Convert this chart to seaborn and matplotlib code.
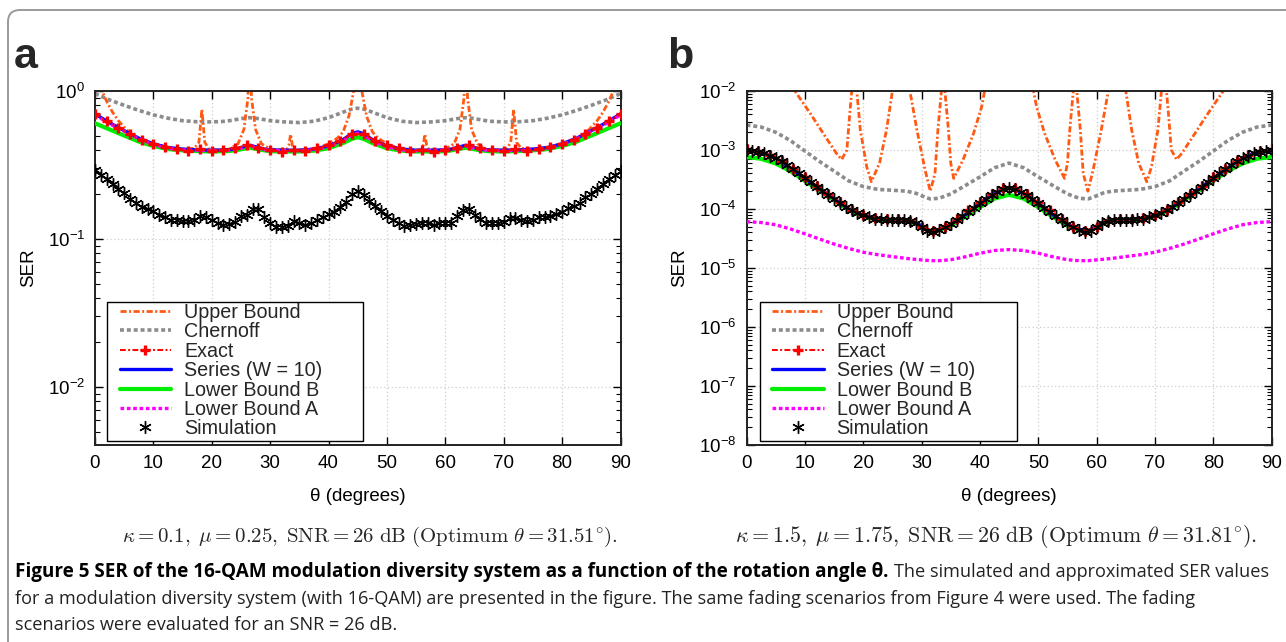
import numpy as np
import matplotlib
matplotlib.use("Agg")
import matplotlib.pyplot as plt
import seaborn as sns
from matplotlib.patches import FancyBboxPatch, Rectangle
from matplotlib.transforms import IdentityTransform
from matplotlib.ticker import LogLocator, NullFormatter, MultipleLocator, LogFormatterMathtext

# ---------------- DATA: panel a ----------------
TH_A_SMOOTH = [0, 2.5, 5, 7.5, 10, 12.5, 15, 17.5, 20, 22.5, 24, 25.5, 26.5, 27.5, 29, 30, 32.5, 35, 37.5, 40,
               42.5, 44, 45, 46, 47.5, 50, 52.5, 55, 57.5, 60, 61, 62.5, 63.5, 64.5, 66, 67.5, 70, 72.5, 75,
               77.5, 80, 82.5, 85, 87.5, 90]
SERIES_A = [0.70, 0.61, 0.54, 0.48, 0.44, 0.415, 0.405, 0.40, 0.398, 0.40, 0.405, 0.42, 0.43, 0.42, 0.405, 0.40,
            0.398, 0.398, 0.405, 0.425, 0.47, 0.515, 0.53,
            0.515, 0.47, 0.425, 0.405, 0.398, 0.398, 0.40, 0.405, 0.42, 0.43, 0.42, 0.405, 0.40, 0.398, 0.40,
            0.405, 0.415, 0.44, 0.48, 0.54, 0.61, 0.70]
LBA_A = [0.69, 0.60, 0.535, 0.475, 0.435, 0.41, 0.40, 0.397, 0.395, 0.397, 0.402, 0.415, 0.425, 0.415, 0.402,
         0.397, 0.395, 0.395, 0.40, 0.42, 0.46, 0.505, 0.52,
         0.505, 0.46, 0.42, 0.40, 0.395, 0.395, 0.397, 0.402, 0.415, 0.425, 0.415, 0.402, 0.397, 0.395, 0.397,
         0.40, 0.41, 0.435, 0.475, 0.535, 0.60, 0.69]
LBB_A = [0.605, 0.55, 0.50, 0.455, 0.425, 0.405, 0.397, 0.393, 0.39, 0.392, 0.397, 0.407, 0.414, 0.407, 0.397,
         0.392, 0.39, 0.39, 0.395, 0.41, 0.445, 0.475, 0.487,
         0.475, 0.445, 0.41, 0.395, 0.39, 0.39, 0.392, 0.397, 0.407, 0.414, 0.407, 0.397, 0.392, 0.39, 0.393,
         0.397, 0.405, 0.425, 0.455, 0.50, 0.55, 0.605]
CHERNOFF_A = [0.96, 0.87, 0.80, 0.74, 0.69, 0.655, 0.63, 0.62, 0.618, 0.625, 0.64, 0.655, 0.66, 0.655, 0.64,
              0.63, 0.618, 0.612, 0.625, 0.66, 0.72, 0.755, 0.765,
              0.755, 0.72, 0.66, 0.625, 0.612, 0.618, 0.63, 0.64, 0.655, 0.66, 0.655, 0.64, 0.625, 0.618, 0.62,
              0.63, 0.655, 0.69, 0.74, 0.80, 0.87, 0.96]
TH_A_EXACT = list(range(0, 91, 2))
EXACT_A = [0.70, 0.625, 0.565, 0.51, 0.465, 0.44, 0.42, 0.405, 0.395, 0.405, 0.395, 0.40, 0.41, 0.43, 0.415,
           0.40, 0.39, 0.40, 0.395, 0.41, 0.43, 0.46, 0.51, 0.51, 0.46, 0.43, 0.41, 0.395, 0.40, 0.39, 0.40,
           0.415, 0.43, 0.41, 0.40, 0.395, 0.405, 0.395, 0.405, 0.42, 0.44, 0.465, 0.51, 0.565, 0.625, 0.70]
TH_A_UB = [0, 1, 2, 3, 4, 5, 6, 7, 8, 10, 12.5, 15, 17, 17.8, 18.3, 18.8, 19.5, 21, 23, 24.5, 25.5, 26.2, 26.5,
           26.8, 27.5, 28.5, 30, 32.8, 33.2, 33.5, 33.8, 34.2, 36, 38, 40, 41.5, 42.5, 43.5, 44.3, 45,
           45.7, 46.5, 47.5, 48.5, 50, 52, 54, 55.8, 56.2, 56.5, 56.8, 57.2, 60, 61.5, 62.5, 63.2, 63.5, 63.8,
           64.5, 65.5, 67, 69, 70.5, 71.2, 71.7, 72.2, 73, 75, 77.5, 80, 82, 83, 84, 85, 86, 87, 88, 89, 90]
UB_A = [3.0, 1.05, 0.85, 0.72, 0.63, 0.57, 0.52, 0.485, 0.46, 0.44, 0.415, 0.405, 0.41, 0.45, 0.75, 0.45, 0.405,
        0.40, 0.405, 0.44, 0.55, 0.9, 3.0, 0.9, 0.55, 0.44, 0.405, 0.40, 0.43, 0.51, 0.43, 0.40, 0.40, 0.41, 0.44,
        0.48, 0.53, 0.68, 1.0, 3.0,
        1.0, 0.68, 0.53, 0.48, 0.44, 0.41, 0.40, 0.40, 0.43, 0.51, 0.43, 0.40, 0.405, 0.44, 0.55, 0.9, 3.0, 0.9,
        0.55, 0.44, 0.405, 0.40, 0.405, 0.45, 0.75, 0.45, 0.41, 0.405, 0.415, 0.44, 0.46, 0.485, 0.52, 0.57,
        0.63, 0.72, 0.85, 1.05, 3.0]
TH_SIM = list(range(0, 91))
SIM_A = [0.292, 0.271, 0.253, 0.235, 0.218, 0.204, 0.187, 0.176, 0.165, 0.159, 0.155, 0.145, 0.140, 0.134,
         0.134, 0.132, 0.132, 0.134, 0.143, 0.140, 0.134, 0.129, 0.124, 0.126, 0.131, 0.142, 0.145, 0.159,
         0.159, 0.140, 0.129, 0.121, 0.121, 0.123, 0.132, 0.128, 0.124, 0.128, 0.134, 0.140, 0.147, 0.153,
         0.165, 0.179, 0.200, 0.212, 0.198, 0.181, 0.167, 0.155, 0.143, 0.134, 0.128, 0.123, 0.124, 0.126,
         0.129, 0.128, 0.124, 0.128, 0.129, 0.129, 0.142, 0.157, 0.159, 0.145, 0.136, 0.128, 0.128, 0.129,
         0.131, 0.139, 0.138, 0.134, 0.132, 0.134, 0.140, 0.140, 0.142, 0.148, 0.153, 0.161, 0.167, 0.176,
         0.191, 0.200, 0.217, 0.235, 0.253, 0.271, 0.290]

# ---------------- DATA: panel b ----------------
TH_B_SMOOTH = [0, 2.5, 5, 7.5, 10, 12.5, 15, 17.5, 20, 22.5, 25, 27.5, 29, 30.5, 31.5, 33, 35, 37.5, 40, 42.5,
               45, 47.5, 50, 52.5, 55, 57, 58.5, 59.5, 61, 62.5, 65, 67.5, 70, 72.5, 75, 77.5, 80, 82.5, 85,
               87.5, 90]
SERIES_B = [1.0e-3, 9.3e-4, 7.3e-4, 5.0e-4, 3.3e-4, 2.2e-4, 1.5e-4, 1.0e-4, 7.8e-5, 6.8e-5, 6.6e-5, 6.4e-5,
            5.9e-5, 4.8e-5, 4.2e-5, 4.5e-5, 5.5e-5, 8.0e-5, 1.25e-4, 1.85e-4, 2.3e-4,
            1.85e-4, 1.25e-4, 8.0e-5, 5.5e-5, 4.5e-5, 4.2e-5, 4.8e-5, 5.9e-5, 6.4e-5, 6.6e-5, 6.8e-5, 7.8e-5,
            1.0e-4, 1.5e-4, 2.2e-4, 3.3e-4, 5.0e-4, 7.3e-4, 9.3e-4, 1.0e-3]
LBB_B = [7.6e-4, 7.1e-4, 5.9e-4, 4.4e-4, 3.0e-4, 2.05e-4, 1.42e-4, 9.6e-5, 7.5e-5, 6.6e-5, 6.4e-5, 6.2e-5,
         5.7e-5, 4.7e-5, 4.1e-5, 4.4e-5, 5.2e-5, 7.4e-5, 1.07e-4, 1.5e-4, 1.74e-4,
         1.5e-4, 1.07e-4, 7.4e-5, 5.2e-5, 4.4e-5, 4.1e-5, 4.7e-5, 5.7e-5, 6.2e-5, 6.4e-5, 6.6e-5, 7.5e-5,
         9.6e-5, 1.42e-4, 2.05e-4, 3.0e-4, 4.4e-4, 5.9e-4, 7.1e-4, 7.6e-4]
LBA_B = [6.1e-5, 5.9e-5, 5.4e-5, 4.6e-5, 3.8e-5, 3.1e-5, 2.55e-5, 2.15e-5, 1.85e-5, 1.68e-5, 1.56e-5, 1.45e-5,
         1.4e-5, 1.36e-5, 1.33e-5, 1.33e-5, 1.38e-5, 1.55e-5, 1.78e-5, 1.98e-5, 2.05e-5,
         1.98e-5, 1.78e-5, 1.55e-5, 1.38e-5, 1.33e-5, 1.33e-5, 1.36e-5, 1.4e-5, 1.45e-5, 1.56e-5, 1.68e-5,
         1.85e-5, 2.15e-5, 2.55e-5, 3.1e-5, 3.8e-5, 4.6e-5, 5.4e-5, 5.9e-5, 6.1e-5]
CHERNOFF_B = [2.65e-3, 2.45e-3, 2.0e-3, 1.45e-3, 9.6e-4, 6.4e-4, 4.4e-4, 3.0e-4, 2.4e-4, 2.15e-4, 2.08e-4,
              2.0e-4, 1.85e-4, 1.6e-4, 1.48e-4, 1.52e-4, 1.8e-4, 2.5e-4, 3.5e-4, 5.0e-4, 6.0e-4,
              5.0e-4, 3.5e-4, 2.5e-4, 1.8e-4, 1.52e-4, 1.48e-4, 1.6e-4, 1.85e-4, 2.0e-4, 2.08e-4, 2.15e-4,
              2.4e-4, 3.0e-4, 4.4e-4, 6.4e-4, 9.6e-4, 1.45e-3, 2.0e-3, 2.45e-3, 2.65e-3]
TH_B_EXACT = list(range(0, 91, 2))
EXACT_B = [1.02e-3, 9.7e-4, 8.3e-4, 6.6e-4, 4.8e-4, 3.5e-4, 2.5e-4, 1.8e-4, 1.32e-4, 9.8e-5, 8.0e-5, 7.0e-5,
           6.8e-5, 6.8e-5, 6.3e-5, 5.0e-5, 4.3e-5, 5.0e-5, 6.8e-5, 9.5e-5, 1.3e-4, 1.78e-4, 2.3e-4,
           2.3e-4, 1.78e-4, 1.3e-4, 9.5e-5, 6.8e-5, 5.0e-5, 4.3e-5, 5.0e-5, 6.3e-5, 6.8e-5, 6.8e-5, 7.0e-5,
           8.0e-5, 9.8e-5, 1.32e-4, 1.8e-4, 2.5e-4, 3.5e-4, 4.8e-4, 6.6e-4, 8.3e-4, 9.7e-4, 1.02e-3]
TH_B_UB = [0, 7, 8.3, 10.9, 13.7, 15.4, 16.3, 17.2, 17.7, 18.1, 18.5, 18.9, 19.5, 20.6, 21.4, 22.8, 24.0, 25.0,
           26.5, 28.0, 29.2, 30.6, 31.5, 32.3, 32.8, 33.4, 33.7, 34.0, 34.6, 35.0, 35.5, 37.1, 38.9, 40.3, 40.8,
           45, 49.2, 49.7, 51.1, 52.9, 54.5, 55.0, 55.4, 56.0, 56.3, 56.6, 57.2, 57.7, 58.5, 59.4, 60.8, 62.0,
           63.5, 65.0, 66.0, 67.2, 68.6, 69.4, 70.5, 71.1, 71.5, 71.9, 72.3, 72.8, 73.7, 74.6, 76.3, 79.1, 81.7,
           83.0, 90]
UB_B = [1.0, 0.02, 1.0e-2, 4.2e-3, 1.58e-3, 8.8e-4, 6.9e-4, 1.0e-3, 4.2e-3, 1.2e-2, 0.1, 1.0e-2, 2.2e-3,
        5.2e-4, 2.9e-4, 6.0e-4, 2.2e-3, 1.0e-2, 0.1, 1.0e-2, 2.2e-3, 4.6e-4, 2.0e-4, 4.0e-4, 2.2e-3, 1.0e-2,
        0.05, 1.0e-2, 2.2e-3, 6.0e-4, 3.3e-4, 6.8e-4, 1.9e-3, 5.4e-3, 1.0e-2, 0.1,
        1.0e-2, 5.4e-3, 1.9e-3, 6.8e-4, 3.3e-4, 6.0e-4, 2.2e-3, 1.0e-2, 0.05, 1.0e-2, 2.2e-3, 4.0e-4, 2.0e-4,
        4.6e-4, 2.2e-3, 1.0e-2, 0.1, 1.0e-2, 2.2e-3, 6.0e-4, 2.9e-4, 5.2e-4, 2.2e-3, 1.0e-2, 0.1, 1.2e-2,
        4.2e-3, 1.0e-3, 6.9e-4, 8.8e-4, 1.58e-3, 4.2e-3, 1.0e-2, 0.02, 1.0]
SIM_B = [1.0e-3, 9.8e-4, 9.4e-4, 8.8e-4, 8.0e-4, 7.3e-4, 6.5e-4, 5.6e-4, 4.8e-4, 4.0e-4, 3.3e-4, 2.85e-4,
         2.4e-4, 2.05e-4, 1.75e-4, 1.5e-4, 1.28e-4, 1.1e-4, 9.5e-5, 8.5e-5, 7.8e-5, 7.2e-5, 6.9e-5, 6.7e-5,
         6.6e-5, 6.6e-5, 6.5e-5, 6.4e-5, 6.2e-5, 5.8e-5, 5.0e-5, 4.3e-5, 4.0e-5, 4.4e-5, 4.9e-5, 5.6e-5,
         6.5e-5, 7.6e-5, 9.0e-5, 1.06e-4, 1.25e-4, 1.47e-4, 1.7e-4, 1.95e-4, 2.2e-4, 2.3e-4,
         2.2e-4, 1.95e-4, 1.7e-4, 1.47e-4, 1.25e-4, 1.06e-4, 9.0e-5, 7.6e-5, 6.5e-5, 5.6e-5, 4.9e-5, 4.4e-5,
         4.0e-5, 4.3e-5, 5.0e-5, 5.8e-5, 6.2e-5, 6.4e-5, 6.5e-5, 6.6e-5, 6.6e-5, 6.7e-5, 6.9e-5, 7.2e-5,
         7.8e-5, 8.5e-5, 9.5e-5, 1.1e-4, 1.28e-4, 1.5e-4, 1.75e-4, 2.05e-4, 2.4e-4, 2.85e-4, 3.3e-4, 4.0e-4,
         4.8e-4, 5.6e-4, 6.5e-4, 7.3e-4, 8.0e-4, 8.8e-4, 9.4e-4, 9.8e-4, 1.0e-3]

LABELS = ["Upper Bound", "Chernoff", "Exact", "Series (W = 10)", "Lower Bound B", "Lower Bound A", "Simulation"]
CAPTION_A = r"$\kappa = 0.1,\;\mu = 0.25,\;\mathrm{SNR} = 26\ \mathrm{dB}\ (\mathrm{Optimum}\ \theta = 31.51^{\circ}).$"
CAPTION_B = r"$\kappa = 1.5,\;\mu = 1.75,\;\mathrm{SNR} = 26\ \mathrm{dB}\ (\mathrm{Optimum}\ \theta = 31.81^{\circ}).$"
FIG_BOLD = "Figure 5 SER of the 16-QAM modulation diversity system as a function of the rotation angle θ."
FIG_L1 = "The simulated and approximated SER values"
FIG_L2 = ("for a modulation diversity system (with 16-QAM) are presented in the figure. The same fading "
          "scenarios from Figure 4 were used. The fading")
FIG_L3 = "scenarios were evaluated for an SNR = 26 dB."

# ---------------- STYLE ----------------
sns.set_theme(style="ticks")
plt.rcParams["font.family"] = ["Liberation Sans", "DejaVu Sans"]
plt.rcParams["mathtext.fontset"] = "custom"
plt.rcParams["mathtext.rm"] = "Liberation Sans"
plt.rcParams["mathtext.it"] = "Liberation Sans:italic"
plt.rcParams["mathtext.bf"] = "Liberation Sans:bold"

W, H = 1286, 642
fig = plt.figure(figsize=(W / 100, H / 100), dpi=100)
fig.patch.set_facecolor("white")

C_UB = "#ff5a14"
C_CH = "#8c8c8c"
C_EX = "#ff0000"
C_SE = "#0000ff"
C_LB = "#00ee00"
C_LA = "#ff00ff"

AX_TOP, AX_BOT = 91, 445          # pixel rows of the axes box
LEG_TOP, LEG_BOT = 301.5, 441.0   # pixel rows of the legend box


def draw_panel(ax, x0, x1, leg_left, leg_right, th_s, series, lbb, lba, cher, th_ex, exact, th_ub, ub, sim, ylim):
    ax.set_yscale("log")
    sns.lineplot(x=th_ub, y=ub, ax=ax, color=C_UB, lw=2.0, linestyle=(0, (2.2, 0.9, 0.7, 0.9)),
                 label=LABELS[0], zorder=2.5, sort=False)
    sns.lineplot(x=th_s, y=cher, ax=ax, color=C_CH, lw=2.6, linestyle=(0, (1.1, 0.8)),
                 label=LABELS[1], zorder=2)
    sns.lineplot(x=th_s, y=lbb, ax=ax, color=C_LB, lw=3.0, linestyle="-", label=LABELS[4], zorder=2.6)
    sns.lineplot(x=th_s, y=series, ax=ax, color=C_SE, lw=2.4, linestyle="-", label=LABELS[3], zorder=2.8)
    sns.lineplot(x=th_s, y=lba, ax=ax, color=C_LA, lw=2.4, linestyle=(0, (1.1, 0.8)),
                 label=LABELS[5], zorder=3)
    sns.lineplot(x=th_ex, y=exact, ax=ax, color=C_EX, lw=1.4, linestyle=(0, (3, 1.2, 1, 1.2)),
                 marker="+", markersize=7, markeredgewidth=2.4, markeredgecolor=C_EX,
                 label=LABELS[2], zorder=4)
    sns.lineplot(x=TH_SIM, y=sim, ax=ax, color="black", linestyle="none", marker=(6, 2, 0),
                 markersize=9, markeredgewidth=1.0, markeredgecolor="black", label=LABELS[6], zorder=5)

    ax.set_xlim(0, 90)
    ax.set_ylim(*ylim)
    ax.xaxis.set_major_locator(MultipleLocator(10))
    ax.yaxis.set_major_locator(LogLocator(base=10, numticks=20))
    ax.yaxis.set_major_formatter(LogFormatterMathtext())
    ax.yaxis.set_minor_locator(LogLocator(base=10, subs=np.arange(2, 10), numticks=20))
    ax.yaxis.set_minor_formatter(NullFormatter())
    ax.tick_params(which="both", direction="in", top=True, right=True, colors="black")
    ax.tick_params(which="major", length=6, width=1.0, labelsize=13.5, pad=7)
    ax.tick_params(which="minor", length=3.5, width=0.8)
    ax.grid(True, which="major", color="#cfcfcf", linestyle=(0, (1, 2)), lw=0.9)
    for s in ax.spines.values():
        s.set_linewidth(1.4)
        s.set_color("#222222")
    ax.set_xlabel("θ (degrees)", fontsize=13.5, labelpad=12, color="black")
    ax.set_ylabel("SER", fontsize=13.5, labelpad=8, color="black")

    # pixel -> axes fraction helpers
    fx = lambda px: (px - x0) / (x1 - x0)
    fy = lambda py: (AX_BOT - py) / (AX_BOT - AX_TOP)

    handles, labels = ax.get_legend_handles_labels()
    hmap = dict(zip(labels, handles))
    fs = 14.2
    fs_px = fs * 100 / 72
    leg = ax.legend([hmap[l] for l in LABELS], LABELS, loc="upper left",
                    bbox_to_anchor=(fx(leg_left + 12.5), fy(LEG_TOP + 1.5)),
                    borderaxespad=0, borderpad=0, fontsize=fs, frameon=False,
                    handlelength=51.5 / fs_px, handletextpad=13 / fs_px, labelspacing=0.02, numpoints=1)
    leg.set_zorder(7)
    box = Rectangle((fx(leg_left), fy(LEG_BOT)), fx(leg_right) - fx(leg_left), fy(LEG_TOP) - fy(LEG_BOT),
                    transform=ax.transAxes, facecolor="white", edgecolor="black", lw=1.0, zorder=6)
    ax.add_patch(box)


top = 1 - AX_TOP / H
bot = 1 - AX_BOT / H
AXA = (95.0, 620.5)
AXB = (746.5, 1271.7)
ax_a = fig.add_axes([AXA[0] / W, bot, (AXA[1] - AXA[0]) / W, top - bot])
ax_b = fig.add_axes([AXB[0] / W, bot, (AXB[1] - AXB[0]) / W, top - bot])

draw_panel(ax_a, AXA[0], AXA[1], 107, 363, TH_A_SMOOTH, SERIES_A, LBB_A, LBA_A, CHERNOFF_A, TH_A_EXACT, EXACT_A,
           TH_A_UB, UB_A, SIM_A, (0.00406, 1.0))
draw_panel(ax_b, AXB[0], AXB[1], 759.5, 1016.8, TH_B_SMOOTH, SERIES_B, LBB_B, LBA_B, CHERNOFF_B, TH_B_EXACT,
           EXACT_B, TH_B_UB, UB_B, SIM_B, (1e-8, 1e-2))

# panel letters
fig.text(14 / W, 1 - 68 / H, "a", fontsize=31, fontweight="bold", ha="left", va="baseline")
fig.text(667 / W, 1 - 68 / H, "b", fontsize=31, fontweight="bold", ha="left", va="baseline")

# sub-captions
fig.text(370 / W, 1 - 537 / H, CAPTION_A, fontsize=15.0, ha="center", va="center", math_fontfamily="cm")
fig.text(996 / W, 1 - 537 / H, CAPTION_B, fontsize=15.8, ha="center", va="center", math_fontfamily="cm")

# figure caption (fit font size so the second line spans like the reference)
cap_fam = ["Open Sans", "Liberation Sans", "DejaVu Sans"]
fig.canvas.draw()
r = fig.canvas.get_renderer()
probe = fig.text(0, 0, FIG_L2, fontsize=13, family=cap_fam)
wprobe = probe.get_window_extent(r).width
probe.remove()
cap_fs = 13 * 1171 / wprobe

t1 = fig.text(15 / W, 1 - 572 / H, FIG_BOLD, fontsize=cap_fs * 1.045, fontweight="bold", color="black",
              family=cap_fam, ha="left", va="center")
bb = t1.get_window_extent(r)
fig.text((bb.x1 + 5) / W, 1 - 572 / H, FIG_L1, fontsize=cap_fs, color="#222222", family=cap_fam,
         ha="left", va="center")
fig.text(15 / W, 1 - 599 / H, FIG_L2, fontsize=cap_fs, color="#222222", family=cap_fam, ha="left", va="center")
fig.text(15 / W, 1 - 625 / H, FIG_L3, fontsize=cap_fs, color="#222222", family=cap_fam, ha="left", va="center")

# rounded frame
frame = FancyBboxPatch((8, -60), 1400, 692, boxstyle="round,pad=0,rounding_size=12",
                       transform=IdentityTransform(), facecolor="none", edgecolor="#9a9a9a", lw=1.4)
fig.add_artist(frame)

fig.savefig("out.png", dpi=100, facecolor="white")
